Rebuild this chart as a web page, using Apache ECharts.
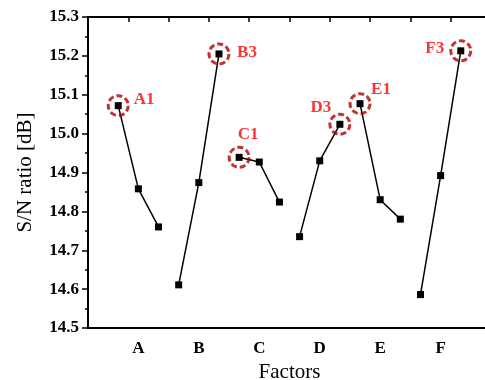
<!DOCTYPE html>
<html>
<head>
<meta charset="utf-8">
<script src="https://cdn.jsdelivr.net/npm/echarts@6/dist/echarts.min.js"></script>
<style>
  html, body { margin: 0; padding: 0; background: #fff; }
  #chart { width: 485px; height: 380px; }
</style>
</head>
<body>
<div id="chart"></div>
<script>
// S/N ratio per level (1,2,3) of each factor
var factors = ['A', 'B', 'C', 'D', 'E', 'F'];
var snA = [15.072, 14.858, 14.760];
var snB = [14.611, 14.874, 15.205];
var snC = [14.939, 14.927, 14.824];
var snD = [14.735, 14.930, 15.024];
var snE = [15.077, 14.830, 14.780];
var snF = [14.586, 14.892, 15.213];
var optimumLevel = [1, 3, 1, 3, 1, 3];   // best level of each factor
var yTicks = [14.5, 14.6, 14.7, 14.8, 14.9, 15.0, 15.1, 15.2, 15.3];

var allSn = [snA, snB, snC, snD, snE, snF];
var slotCount = 20;   // level positions on the x axis (3 per factor + margins)
var slots = [];
for (var i = 0; i < slotCount; i++) slots.push(String(i));

function slotOf(f, l) { return 1 + f * 3 + l; }   // f factor idx, l level idx 0..2
function labelOfSlot(i) {
  var f = (i - 2) / 3;
  return (f >= 0 && f % 1 === 0 && f < factors.length) ? factors[f] : '';
}

// label offsets around the highlighted points
var labelOffsets = [[26, -6], [28, -1], [9, -23], [-19, -17], [21, -14], [-26, -2]];

var series = [];
allSn.forEach(function (vals, f) {
  series.push({
    name: factors[f],
    type: 'line',
    data: vals.map(function (v, l) { return [slotOf(f, l), v]; }),
    symbol: 'rect',
    symbolSize: 7,
    lineStyle: { color: '#000', width: 1.5 },
    itemStyle: { color: '#000' },
    z: 3
  });
});

series.push({
  type: 'scatter',
  data: allSn.map(function (vals, f) {
    var l = optimumLevel[f] - 1;
    return {
      value: [slotOf(f, l), vals[l]],
      label: { offset: labelOffsets[f] }
    };
  }),
  symbol: 'circle',
  symbolSize: 20,
  itemStyle: {
    color: 'rgba(0,0,0,0)',
    borderColor: '#b00000',
    borderWidth: 3,
    borderType: [6, 3]
  },
  label: {
    show: true,
    position: 'inside',
    color: '#ff0000',
    fontFamily: 'Liberation Serif',
    fontWeight: 'bold',
    fontSize: 17,
    formatter: function (p) {
      return factors[p.dataIndex] + optimumLevel[p.dataIndex];
    }
  },
  z: 4
});

var option = {
  animation: false,
  grid: { left: 88, right: -6, top: 17, bottom: 52, outerBoundsMode: 'none' },
  xAxis: [
    {
      type: 'category',
      data: slots,
      boundaryGap: true,
      name: 'Factors',
      nameLocation: 'middle',
      nameGap: 32,
      nameTextStyle: { color: '#000', fontFamily: 'Liberation Serif', fontSize: 21 },
      axisLine: { lineStyle: { color: '#000', width: 2 } },
      axisTick: { alignWithLabel: true, interval: 0, length: 6, lineStyle: { color: '#000', width: 1.5 } },
      axisLabel: {
        interval: 0,
        margin: 12,
        color: '#000',
        fontFamily: 'Liberation Serif',
        fontWeight: 'bold',
        fontSize: 17,
        formatter: function (v, i) { return labelOfSlot(i); }
      },
      splitLine: { show: false }
    },
    {
      type: 'value',
      position: 'top',
      min: 0,
      max: 10,
      interval: 1,
      axisLine: { show: true, lineStyle: { color: '#000', width: 2 } },
      axisTick: { show: true, inside: true, length: 5, lineStyle: { color: '#000', width: 1.5 } },
      axisLabel: { show: false },
      splitLine: { show: false }
    }
  ],
  yAxis: {
    type: 'value',
    min: 14.5,
    max: 15.3,
    interval: 0.1,
    name: 'S/N ratio [dB]',
    nameLocation: 'middle',
    nameGap: 52,
    nameTextStyle: { color: '#000', fontFamily: 'Liberation Serif', fontSize: 21 },
    axisLine: { show: true, lineStyle: { color: '#000', width: 2 } },
    axisTick: { show: true, length: 6, lineStyle: { color: '#000', width: 1.5 } },
    minorTick: { show: true, splitNumber: 2, length: 3, lineStyle: { color: '#000', width: 1.5 } },
    axisLabel: {
      margin: 9,
      color: '#000',
      fontFamily: 'Liberation Serif',
      fontWeight: 'bold',
      fontSize: 17,
      formatter: function (v) { return v.toFixed(1); }
    },
    splitLine: { show: false }
  },
  series: series
};

var chart = echarts.init(document.getElementById('chart'));
chart.setOption(option);
</script>
</body>
</html>
